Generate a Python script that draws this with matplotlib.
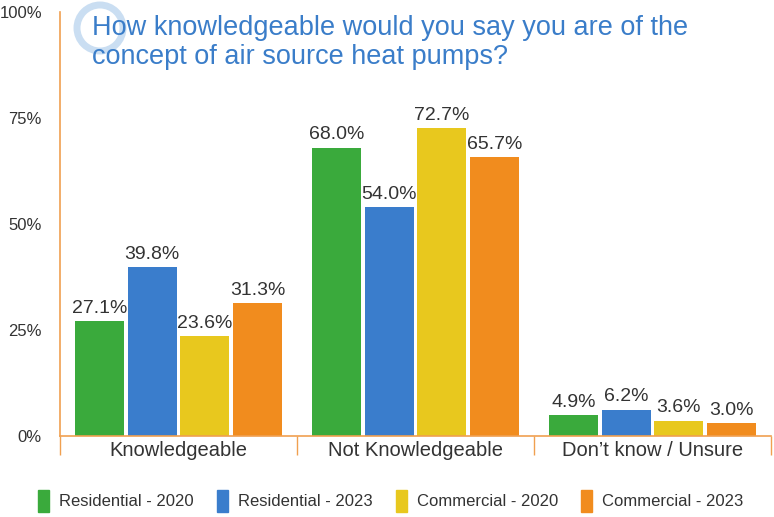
import numpy as np
import matplotlib.pyplot as plt
from matplotlib.patches import Circle

plt.rcParams['font.family'] = ['Liberation Sans', 'DejaVu Sans']

categories = ['Knowledgeable', 'Not Knowledgeable', 'Don\u2019t know / Unsure']
series = ['Residential - 2020', 'Residential - 2023', 'Commercial - 2020', 'Commercial - 2023']
values = [
    [27.1, 68.0, 4.9],
    [39.8, 54.0, 6.2],
    [23.6, 72.7, 3.6],
    [31.3, 65.7, 3.0],
]
colors = ['#3aaa3c', '#3a7dcc', '#e8c81e', '#f18c1e']
yticks = [0, 25, 50, 75, 100]
title = 'How knowledgeable would you say you are of the\nconcept of air source heat pumps?'

spine_col = '#f0a050'
text_col = '#333333'

fig = plt.figure(figsize=(7.74, 5.17), dpi=100)
ax = fig.add_axes([60 / 774, 1 - 436 / 517, (771 - 60) / 774, (436 - 12) / 517])

x = np.arange(len(categories))
step = 0.222
width = 0.206
for i, (name, vals, c) in enumerate(zip(series, values, colors)):
    pos = x + (i - 1.5) * step
    ax.bar(pos, vals, width=width, color=c, label=name)
    for p, v in zip(pos, vals):
        ax.text(p, v + 1.0, f'{v:.1f}%', ha='center', va='bottom',
                fontsize=14, color=text_col)

ax.set_xlim(-0.5, len(categories) - 0.5)
ax.set_ylim(0, 100)
ax.set_yticks(yticks)
ax.set_yticklabels([f'{t}%' for t in yticks], fontsize=12, color=text_col)
ax.tick_params(axis='y', length=0, pad=13)

# category labels between boundary ticks
ax.set_xticks(np.arange(len(categories) + 1) - 0.5)
ax.set_xticklabels([])
ax.tick_params(axis='x', length=14, color=spine_col, width=1)
for xi, lab in zip(x, categories):
    ax.text(xi, -1.2, lab, ha='center', va='top', fontsize=14.5, color=text_col)

for s in ['top', 'right']:
    ax.spines[s].set_visible(False)
for s in ['left', 'bottom']:
    ax.spines[s].set_color(spine_col)
    ax.spines[s].set_linewidth(1.2)

# faint Q ring behind the question
q_col = '#cadef2'
fig.patches.append(Circle((100, 517 - 28), 23, transform=None, fill=False,
                          edgecolor=q_col, linewidth=5, zorder=0))
fig.add_artist(plt.Line2D([101, 110], [517 - 44, 517 - 54], transform=None,
                          color=q_col, linewidth=5, zorder=0))
fig.text(92 / 774, 1 - 15 / 517, title, fontsize=19.5, color='#3a7dc9',
         ha='left', va='top', linespacing=1.15)

handles = [plt.Rectangle((0, 0), 1, 1, color=c) for c in colors]
fig.legend(handles, series, loc='center', bbox_to_anchor=(0.505, 1 - 501 / 517),
           ncol=4, frameon=False, fontsize=12, handlelength=0.65, handleheight=1.6,
           handletextpad=0.6, columnspacing=1.4, labelcolor=text_col)

fig.savefig('out.png', dpi=100)
